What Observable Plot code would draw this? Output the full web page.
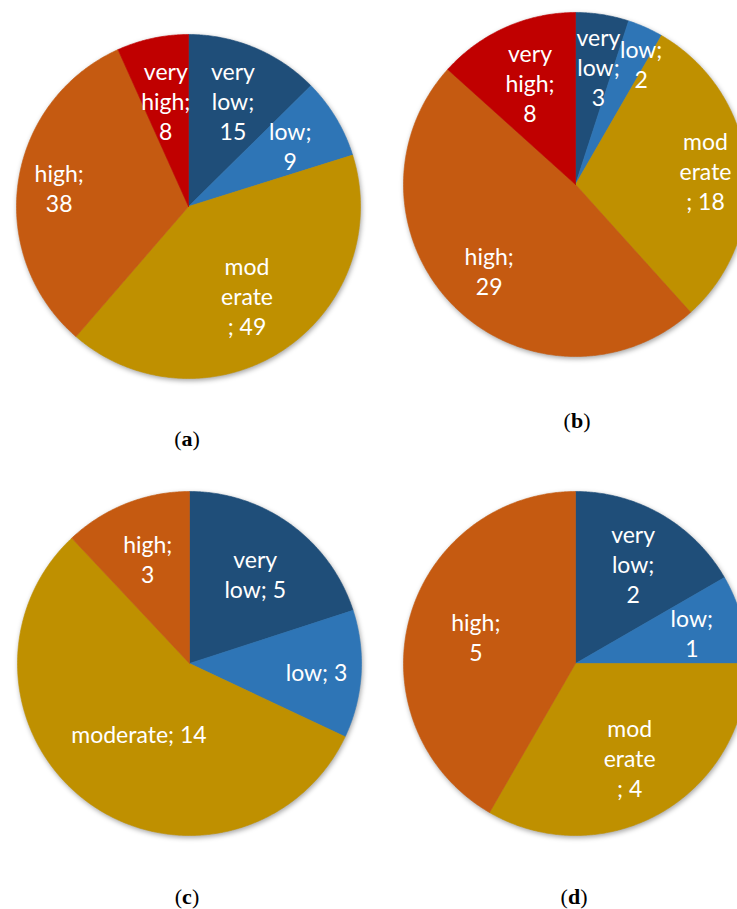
<!DOCTYPE html>
<html><head><meta charset="utf-8">
<script src="https://cdn.jsdelivr.net/npm/d3@7"></script>
<script src="https://cdn.jsdelivr.net/npm/@observablehq/plot@0.6"></script>
<style>
html,body{margin:0;padding:0;background:#fff;}
#fig{position:relative;width:737px;height:909px;overflow:hidden;background:#fff;}
.panel{position:absolute;}
.panel svg{overflow:visible;max-width:none;}
.panel g[aria-label="line"]{filter:drop-shadow(1px 2px 2.5px rgba(0,0,0,0.35));}
.cap{position:absolute;font-family:"Liberation Serif",serif;font-size:22px;line-height:22px;transform:translateX(-50%);white-space:nowrap;color:#000;}
</style></head><body><div id="fig"></div>
<script>
// categories and colours
const categories = ["very low", "low", "moderate", "high", "very high"];
const colors = ["#1F4E79", "#2E75B6", "#BF9000", "#C55A11", "#C00000"];

// panel (a)
const catsA = ["very low", "low", "moderate", "high", "very high"];
const valuesA = [15, 9, 49, 38, 8];
const labelsA = ["very\nlow;\n15", "low;\n9", "mod\nerate\n; 49", "high;\n38", "very\nhigh;\n8"];

// panel (b)
const catsB = ["very low", "low", "moderate", "high", "very high"];
const valuesB = [3, 2, 18, 29, 8];
const labelsB = ["very\nlow;\n3", "low;\n2", "mod\nerate\n; 18", "high;\n29", "very\nhigh;\n8"];

// panel (c)
const catsC = ["very low", "low", "moderate", "high"];
const valuesC = [5, 3, 14, 3];
const labelsC = ["very\nlow; 5", "low; 3", "moderate; 14", "high;\n3"];

// panel (d)
const catsD = ["very low", "low", "moderate", "high"];
const valuesD = [2, 1, 4, 5];
const labelsD = ["very\nlow;\n2", "low;\n1", "mod\nerate\n; 4", "high;\n5"];

const captions = ["a", "b", "c", "d"];

// layout: pixel placement of each pie; label distance from centre (fraction of radius)
// and a small angular nudge (degrees) for crowded labels
const R = 172, pad = 14, S = 2 * (R + pad), h = (R + pad) / R;
const layout = [
  {cx: 188, cy: 206, capX: 187, capY: 446, labelR: [0.67, 0.69, 0.62, 0.76, 0.63], nudge: [0, 0, 0, 0, 0]},
  {cx: 575, cy: 184, capX: 577, capY: 428, labelR: [0.70, 0.80, 0.76, 0.71, 0.65], nudge: [2, 4.5, 0, 0, 0]},
  {cx: 188.5, cy: 663, capX: 187, capY: 904, labelR: [0.65, 0.74, 0.50, 0.66], nudge: [0, 0, 0, 0]},
  {cx: 575, cy: 663, capX: 574, capY: 904, labelR: [0.67, 0.70, 0.63, 0.60], nudge: [0, 0, 0, 0]}
];
const panels = [
  {cats: catsA, values: valuesA, labels: labelsA},
  {cats: catsB, values: valuesB, labels: labelsB},
  {cats: catsC, values: valuesC, labels: labelsC},
  {cats: catsD, values: valuesD, labels: labelsD}
];

const fig = document.getElementById("fig");

panels.forEach((p, k) => {
  const L = layout[k];
  const arcs = d3.pie().sort(null).value(d => d)(p.values);
  const pts = [];
  const lbls = [];
  arcs.forEach((a, i) => {
    const cat = p.cats[i];
    pts.push({x: 0, y: 0, cat});
    const n = Math.max(2, Math.ceil((a.endAngle - a.startAngle) / (Math.PI / 360)));
    for (let j = 0; j <= n; j++) {
      const t = a.startAngle + (a.endAngle - a.startAngle) * j / n;
      pts.push({x: Math.sin(t), y: Math.cos(t), cat});
    }
    pts.push({x: 0, y: 0, cat});
    const mid = (a.startAngle + a.endAngle) / 2 + L.nudge[i] * Math.PI / 180;
    const kr = L.labelR[i];
    lbls.push({x: kr * Math.sin(mid), y: kr * Math.cos(mid), label: p.labels[i]});
  });

  const chart = Plot.plot({
    width: S, height: S, margin: 0,
    x: {domain: [-h, h], axis: null},
    y: {domain: [-h, h], axis: null},
    color: {domain: categories, range: colors},
    marks: [
      Plot.line(pts, {x: "x", y: "y", z: "cat", fill: "cat", stroke: "cat", strokeWidth: 0.6, curve: "linear"}),
      Plot.text(lbls, {x: "x", y: "y", text: "label", fill: "white", fontSize: 23, fontFamily: "Lato",
        lineHeight: 30 / 23, textAnchor: "middle", lineAnchor: "middle"})
    ]
  });
  const div = document.createElement("div");
  div.className = "panel";
  div.style.left = (L.cx - S / 2) + "px";
  div.style.top = (L.cy - S / 2) + "px";
  div.style.width = S + "px";
  div.style.height = S + "px";
  div.appendChild(chart);
  fig.appendChild(div);

  const cap = document.createElement("div");
  cap.className = "cap";
  cap.style.left = L.capX + "px";
  cap.style.top = (L.capY - 18.4) + "px";
  cap.innerHTML = "(<b>" + captions[k] + "</b>)";
  fig.appendChild(cap);
});
</script></body></html>
